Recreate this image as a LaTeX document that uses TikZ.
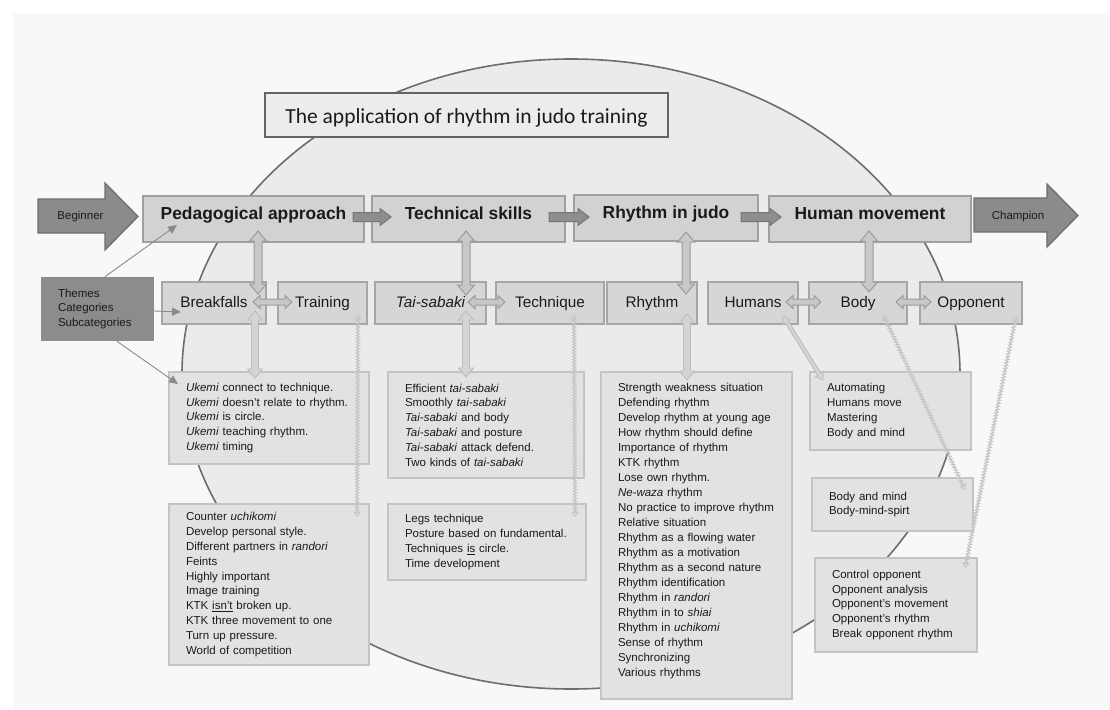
\documentclass[tikz,border=0pt]{standalone}
\usepackage{fontspec}
\setmainfont{Liberation Sans}
\newfontfamily\titlefont{Carlito}
\usetikzlibrary{calc,arrows.meta,decorations.pathmorphing}
\definecolor{bgc}{HTML}{F8F8F8}
\definecolor{ellfill}{HTML}{EBEBEB}
\definecolor{elldraw}{HTML}{6D6D6D}
\definecolor{titlefill}{HTML}{ECECEC}
\definecolor{titledraw}{HTML}{646464}
\definecolor{topfill}{HTML}{D2D2D2}
\definecolor{topdraw}{HTML}{A0A0A0}
\definecolor{midfill}{HTML}{D6D6D6}
\definecolor{middraw}{HTML}{A6A6A6}
\definecolor{leaffill}{HTML}{E2E2E2}
\definecolor{leafdraw}{HTML}{C4C4C4}
\definecolor{darkfill}{HTML}{8B8B8B}
\definecolor{darkdraw}{HTML}{6F6F6F}
\definecolor{themefill}{HTML}{8C8C8C}
\definecolor{chainfill}{HTML}{8E8E8E}
\definecolor{chaindraw}{HTML}{767676}
\definecolor{dblfill}{HTML}{C8C8C8}
\definecolor{dbldraw}{HTML}{9C9C9C}
\definecolor{lightfill}{HTML}{D4D4D4}
\definecolor{lightdraw}{HTML}{BDBDBD}
\definecolor{zzc}{HTML}{C6C6C6}
\definecolor{thinc}{HTML}{8A8A8A}
\definecolor{txt}{HTML}{1A1A1A}

% double-headed block arrow: style, A, B, shaft half width, head half width, head length
\newcommand\dblarr[6]{%
\path[#1] (#2)
 -- ($($(#2)!#6!(#3)$)!#5!90:(#3)$)
 -- ($($(#2)!#6!(#3)$)!#4!90:(#3)$)
 -- ($($(#3)!#6!(#2)$)!#4!-90:(#2)$)
 -- ($($(#3)!#6!(#2)$)!#5!-90:(#2)$)
 -- (#3)
 -- ($($(#3)!#6!(#2)$)!#5!90:(#2)$)
 -- ($($(#3)!#6!(#2)$)!#4!90:(#2)$)
 -- ($($(#2)!#6!(#3)$)!#4!-90:(#3)$)
 -- ($($(#2)!#6!(#3)$)!#5!-90:(#3)$)
 -- cycle;}
% single block arrow
\newcommand\sglarr[6]{%
\path[#1] ($(#2)!#4!90:(#3)$)
 -- ($($(#3)!#6!(#2)$)!#4!-90:(#2)$)
 -- ($($(#3)!#6!(#2)$)!#5!-90:(#2)$)
 -- (#3)
 -- ($($(#3)!#6!(#2)$)!#5!90:(#2)$)
 -- ($($(#3)!#6!(#2)$)!#4!90:(#2)$)
 -- ($(#2)!#4!-90:(#3)$)
 -- cycle;}
% zigzag double-headed connector
\newcommand\zzconn[2]{%
\draw[zz] ($(#1)!4pt!(#2)$) -- ($(#2)!4pt!(#1)$);
\draw[zztip] ($(#1)!6pt!(#2)$) -- (#1);
\draw[zztip] ($(#2)!6pt!(#1)$) -- (#2);}

\begin{document}
\begin{tikzpicture}[x=1pt,y=-1pt,
  topbox/.style={draw=topdraw, fill=topfill, line width=2pt, text=txt,
    font=\bfseries\fontsize{17.4pt}{20pt}\selectfont, text height=5pt, text depth=5pt,
    inner sep=0pt, minimum height=46pt},
  midbox/.style={draw=middraw, fill=midfill, line width=2pt, text=txt,
    font=\fontsize{15.3pt}{18pt}\selectfont, text height=12pt, text depth=4pt,
    inner sep=0pt, minimum height=42pt},
  leaf/.style={draw=leafdraw, fill=leaffill, line width=2pt, text=txt, anchor=north west,
    font=\fontsize{11.5pt}{14.8pt}\selectfont, align=left, inner xsep=17pt, inner ysep=0pt},
  themebox/.style={fill=themefill, text=txt, font=\fontsize{11.5pt}{14.5pt}\selectfont,
    align=left, inner xsep=17pt, inner ysep=0pt, text width=79pt, minimum height=64pt},
  titlebox/.style={draw=titledraw, fill=titlefill, line width=1.5pt, text=txt,
    font=\titlefont\fontsize{21.5pt}{24pt}\selectfont, text height=16pt, text depth=0pt,
    inner sep=0pt, minimum width=403pt, minimum height=44pt},
  darkarrow/.style={fill=darkfill, draw=darkdraw, line width=1.3pt},
  smalltxt/.style={text=txt, font=\fontsize{11.5pt}{14pt}\selectfont, inner sep=0pt},
  chainA/.style={fill=chainfill, draw=chaindraw, line width=1pt},
  dblA/.style={fill=dblfill, draw=dbldraw, line width=1pt},
  lightA/.style={fill=lightfill, draw=lightdraw, line width=0.9pt},
  zz/.style={draw=zzc, line width=1.2pt, decorate, decoration={zigzag, segment length=3pt, amplitude=1.5pt}},
  zztip/.style={draw=zzc, line width=0.9pt, -{Triangle[open, length=5pt, width=7pt]}},
  thinarrow/.style={draw=thinc, line width=0.9pt, -{Triangle[length=9pt, width=8pt]}, thinc}
]
\useasboundingbox (0,0) rectangle (1110,709);
\fill[white] (0,0) rectangle (1110,709);
\fill[bgc] (13,13) rectangle (1110,709);

% big ellipse
\draw[fill=ellfill, draw=elldraw, line width=1.6pt] (571,374) ellipse [x radius=389pt, y radius=315pt];

% title
\node[titlebox] (title) at (466.5,115) {The application of rhythm in judo training};

% beginner / champion arrows
\filldraw[darkarrow] (38,199) -- (105,199) -- (105,183) -- (138,216.5) -- (105,250) -- (105,233) -- (38,233) -- cycle;
\node[smalltxt] (beg) at (80.5,217) {Beginner};
\filldraw[darkarrow] (974,198) -- (1047,198) -- (1047,184) -- (1078,215.5) -- (1047,247) -- (1047,232) -- (974,232) -- cycle;
\node[smalltxt] (cha) at (1018,217) {Champion};

% themes
\node[topbox, minimum width=221pt] (ped) at (253.5,219) {Pedagogical approach};
\node[topbox, minimum width=193pt] (tech) at (468.5,219) {Technical skills};
\node[topbox, minimum width=184pt] (rij) at (666,218) {Rhythm in judo};
\node[topbox, minimum width=202pt] (hum) at (870,219) {Human movement};

% chain arrows
\coordinate (c1a) at ($(ped.east)+(-12,-2)$);
\coordinate (c1b) at ($(tech.west)+(20,-2)$);
\coordinate (c2a) at ($(tech.east)+(-17,-2)$);
\coordinate (c2b) at ($(rij.west)+(16,-1)$);
\coordinate (c3a) at ($(rij.east)+(-18,-1)$);
\coordinate (c3b) at ($(hum.west)+(13,-2)$);
\sglarr{chainA}{c1a}{c1b}{4.5pt}{8.5pt}{11pt}
\sglarr{chainA}{c2a}{c2b}{4.5pt}{8.5pt}{11pt}
\sglarr{chainA}{c3a}{c3b}{4.5pt}{8.5pt}{11pt}

% categories
\node[midbox, minimum width=104pt] (brk) at (214,303) {Breakfalls};
\node[midbox, minimum width=89pt] (trn) at (322.5,303) {Training};
\node[midbox, minimum width=111pt] (tai) at (430.5,303) {\itshape Tai-sabaki};
\node[midbox, minimum width=108pt] (tec) at (550,303) {Technique};
\node[midbox, minimum width=90pt] (rhy) at (652,303) {Rhythm};
\node[midbox, minimum width=90pt] (hmn) at (753,303) {Humans};
\node[midbox, minimum width=98pt] (bod) at (858,303) {Body};
\node[midbox, minimum width=102pt] (opp) at (971,303) {Opponent};

% vertical theme-category arrows
\coordinate (v1b) at ($(brk.north east)+(-9,13)$);
\coordinate (v1a) at ($(v1b |- ped.south)+(0,-12)$);
\coordinate (v2b) at ($(tai.north east)+(-21,14)$);
\coordinate (v2a) at ($(v2b |- tech.south)+(0,-12)$);
\coordinate (v3b) at ($(rhy.north east)+(-12,13)$);
\coordinate (v3a) at ($(v3b |- rij.south)+(0,-10)$);
\coordinate (v4b) at ($(bod.north east)+(-39,11)$);
\coordinate (v4a) at ($(v4b |- hum.south)+(0,-12)$);
\dblarr{dblA}{v1a}{v1b}{4pt}{8.5pt}{10pt}
\dblarr{dblA}{v2a}{v2b}{4pt}{8.5pt}{10pt}
\dblarr{dblA}{v3a}{v3b}{4pt}{8.5pt}{10pt}
\dblarr{dblA}{v4a}{v4b}{4pt}{8.5pt}{10pt}

% horizontal category arrows
\coordinate (h1a) at ($(brk.east)+(-14,-1)$); \coordinate (h1b) at ($(trn.west)+(15,-1)$);
\coordinate (h2a) at ($(tai.east)+(-19,-1)$); \coordinate (h2b) at ($(tec.west)+(10,-1)$);
\coordinate (h3a) at ($(hmn.east)+(-13,-1)$); \coordinate (h3b) at ($(bod.west)+(13,-1)$);
\coordinate (h4a) at ($(bod.east)+(-12,-1)$); \coordinate (h4b) at ($(opp.west)+(12,-1)$);
\dblarr{dblA}{h1a}{h1b}{3pt}{6.5pt}{7pt}
\dblarr{dblA}{h2a}{h2b}{3pt}{6.5pt}{7pt}
\dblarr{dblA}{h3a}{h3b}{3pt}{6.5pt}{7pt}
\dblarr{dblA}{h4a}{h4b}{3pt}{6.5pt}{7pt}

% subcategories
\node[leaf, text width=166pt, minimum height=92pt] (uk) at (168,371) {%
\textit{Ukemi} connect to technique.\\
\textit{Ukemi} doesn't relate to rhythm.\\
\textit{Ukemi} is circle.\\
\textit{Ukemi} teaching rhythm.\\
\textit{Ukemi} timing};
\node[leaf, text width=166pt, minimum height=161pt] (ctr) at (168,503) {%
Counter \textit{uchikomi}\\
Develop personal style.\\
Different partners in \textit{randori}\\
Feints\\
Highly important\\
Image training\\
KTK \underline{isn't} broken up.\\
KTK three movement to one\\
Turn up pressure.\\
World of competition};
\node[leaf, text width=162pt, minimum height=106pt] (eff) at (387,371) {%
Efficient \textit{tai-sabaki}\\
Smoothly \textit{tai-sabaki}\\
\textit{Tai-sabaki} and body\\
\textit{Tai-sabaki} and posture\\
\textit{Tai-sabaki} attack defend.\\
Two kinds of \textit{tai-sabaki}};
\node[leaf, text width=164pt, minimum height=76pt] (legs) at (387,503) {%
Legs technique\\
Posture based on fundamental.\\
Techniques \underline{is} circle.\\
Time development};
\node[leaf, text width=157pt, minimum height=327pt, font=\fontsize{11.5pt}{15pt}\selectfont] (str) at (600,371) {%
Strength weakness situation\\
Defending rhythm\\
Develop rhythm at young age\\
How rhythm should define\\
Importance of rhythm\\
KTK rhythm\\
Lose own rhythm.\\
\textit{Ne-waza} rhythm\\
No practice to improve rhythm\\
Relative situation\\
Rhythm as a flowing water\\
Rhythm as a motivation\\
Rhythm as a second nature\\
Rhythm identification\\
Rhythm in \textit{randori}\\
Rhythm in to \textit{shiai}\\
Rhythm in \textit{uchikomi}\\
Sense of rhythm\\
Synchronizing\\
Various rhythms\par\vspace{8pt}};
\node[leaf, text width=127pt, minimum height=78pt] (aut) at (809,371) {%
Automating\\
Humans move\\
Mastering\\
Body and mind};
\node[leaf, text width=127pt, minimum height=53pt] (bm) at (811,477) {%
Body and mind\\
Body-mind-spirt};
\node[leaf, text width=128pt, minimum height=94pt] (ctl) at (814,557) {%
Control opponent\\
Opponent analysis\\
Opponent's movement\\
Opponent's rhythm\\
Break opponent rhythm};

% category-subcategory arrows
\coordinate (l1b) at ($(uk.north west)+(87,7)$); \coordinate (l1a) at ($(l1b |- brk.south)+(0,-14)$);
\coordinate (l2b) at ($(eff.north west)+(79,6)$); \coordinate (l2a) at ($(l2b |- tai.south)+(0,-14)$);
\coordinate (l3b) at ($(str.north west)+(87,9)$); \coordinate (l3a) at ($(l3b |- rhy.south)+(0,-11)$);
\dblarr{lightA}{l1a}{l1b}{3.5pt}{7.5pt}{9pt}
\dblarr{lightA}{l2a}{l2b}{3.5pt}{7.5pt}{9pt}
\dblarr{lightA}{l3a}{l3b}{3.5pt}{7.5pt}{9pt}
\coordinate (ha) at ($(hmn.south east)+(-16,-9)$); \coordinate (hb) at ($(aut.north west)+(14,9)$);
\dblarr{lightA}{ha}{hb}{1.8pt}{4.5pt}{7pt}

\coordinate (z1a) at ($(trn.south east)+(-10,-11)$); \coordinate (z1b) at ($(ctr.north east)+(-13,14)$);
\coordinate (z2a) at ($(tec.south east)+(-31,-11)$); \coordinate (z2b) at ($(legs.north east)+(-12,14)$);
\coordinate (z3a) at ($(bod.south east)+(-25,-11)$); \coordinate (z3b) at ($(bm.north east)+(-9,13)$);
\coordinate (z4a) at ($(opp.south east)+(-7,-9)$); \coordinate (z4b) at ($(ctl.north east)+(-13,11)$);
\zzconn{z1a}{z1b}
\zzconn{z2a}{z2b}
\zzconn{z3a}{z3b}
\zzconn{z4a}{z4b}

% legend box
\node[themebox] (thm) at (97.5,309) {Themes\\Categories\\Subcategories};
\draw[thinarrow] ($(thm.north west)+(64,0)$) -- ($(ped.south west)+(35,-18)$);
\draw[thinarrow] ($(thm.east)+(0,2)$) -- ($(brk.west)+(20,9)$);
\draw[thinarrow] ($(thm.south west)+(76,0)$) -- ($(uk.north west)+(10,13)$);
\end{tikzpicture}
\end{document}
